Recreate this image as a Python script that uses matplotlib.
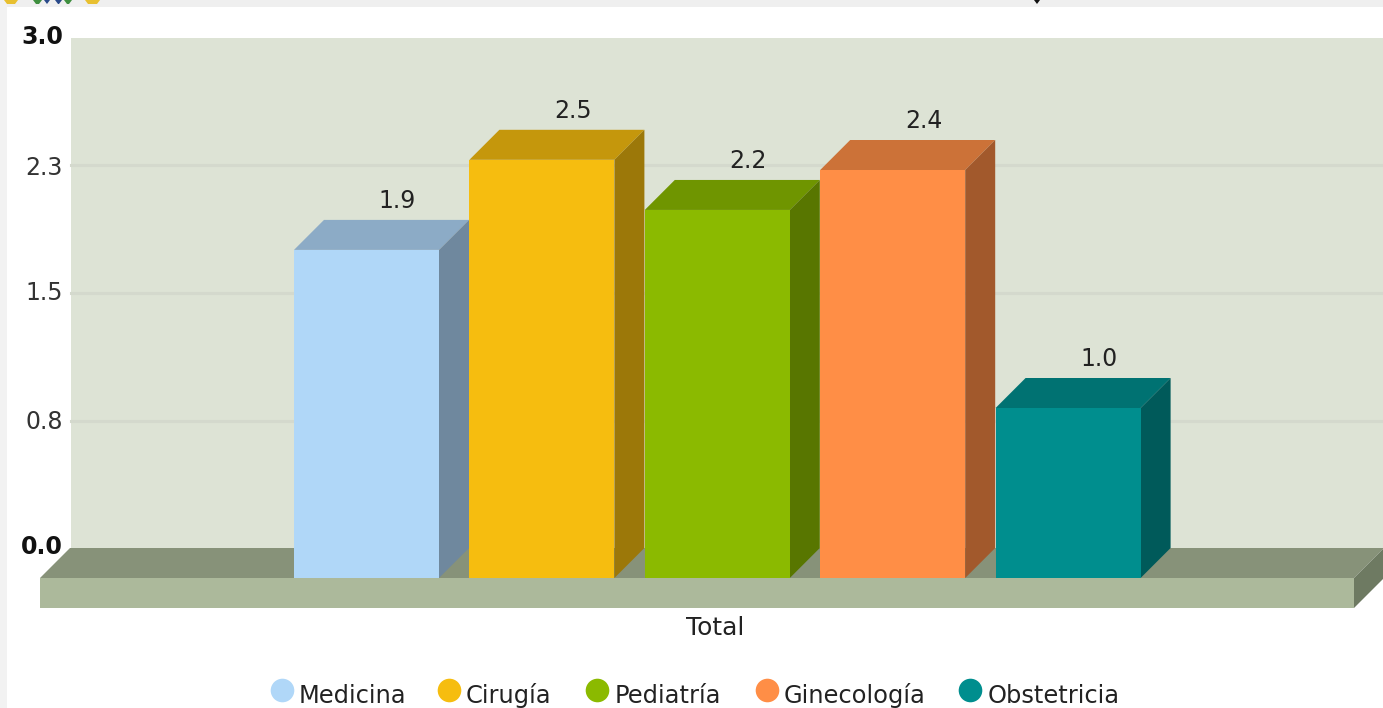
import matplotlib
matplotlib.use("Agg")
import matplotlib.pyplot as plt
from matplotlib.patches import Polygon, Rectangle

W, H = 1383, 708

series = ['Medicina', 'Cirugía', 'Pediatría', 'Ginecología', 'Obstetricia']
values = [1.93, 2.46, 2.165, 2.40, 1.0]
value_labels = ['1.9', '2.5', '2.2', '2.4', '1.0']
front_colors = ['#b0d7f8', '#f6bd0f', '#8bba00', '#ff8e46', '#008e8e']
top_colors = ['#8cabc6', '#c5970c', '#6f9500', '#cc7238', '#007272']
side_colors = ['#6f889e', '#9c7809', '#587600', '#a2592c', '#005a5a']
y_ticks = [0.0, 0.75, 1.5, 2.25, 3.0]
y_tick_labels = ['0.0', '0.8', '1.5', '2.3', '3.0']
y_label_px = [547, 422, 293, 168, 37]
category = 'Total'

# cut off bits of the page header along the top edge: x0, x1, colour
header_bits = [(4, 18, '#e8c030'), (33, 42, '#3f8f3f'), (44, 50, '#2a4a8a'), (55, 62, '#2a4a8a'),
               (64, 72, '#3f8f3f'), (85, 100, '#e8c030'), (1034, 1040, '#111111')]

# pixels of the front plane
px_per_value = 170.0
px_per_bar = 175.4
x0_px = 366.5
y0_px = 578.0
depth_px = 30.0
bar_w = 145.0 / px_per_bar
dx = depth_px / px_per_bar
dy = depth_px / px_per_value


def xv(px):
    return (px - x0_px) / px_per_bar


def yv(py):
    return (y0_px - py) / px_per_value


plt.rcParams['font.family'] = ['DejaVu Sans']
fig = plt.figure(figsize=(W / 100, H / 100), dpi=100, facecolor='white')
ax = fig.add_axes([0, 0, 1, 1])
ax.set_xlim(xv(0), xv(W))
ax.set_ylim(yv(H), yv(0))
ax.axis('off')

# page behind the chart
ax.add_patch(Rectangle((xv(0), yv(7)), xv(W) - xv(0), yv(0) - yv(7), fc='#efefef', ec='none'))
ax.add_patch(Rectangle((xv(0), yv(H)), xv(7) - xv(0), yv(0) - yv(H), fc='#f2f2f2', ec='none'))
for a, b, c in header_bits:
    ax.add_patch(Polygon([(xv(a), yv(0)), (xv(b), yv(0)), (xv(b - 3), yv(4)), (xv(a + 3), yv(4))], fc=c, ec='none'))

# back wall, gridlines
wall_l, wall_r = xv(71), xv(W)
ax.add_patch(Rectangle((wall_l, dy), wall_r - wall_l, y_ticks[-1], fc='#dde3d5', ec='none', zorder=1))
for t in y_ticks[1:-1]:
    ax.plot([wall_l, wall_r], [t + dy, t + dy], color='#d4d9cd', lw=2.2, zorder=1.5)

# floor
fl, fr = xv(40), xv(1354)
floor_h = 30.0 / px_per_value
ax.add_patch(Polygon([(fl, 0), (fl + dx, dy), (fr + dx, dy), (fr, 0)], fc='#879279', ec='none', zorder=2))
ax.add_patch(Polygon([(fr, 0), (fr + dx, dy), (fr + dx, dy - floor_h), (fr, -floor_h)], fc='#6e7a62', ec='none', zorder=2))
ax.add_patch(Rectangle((fl, -floor_h), fr - fl, floor_h, fc='#acb99b', ec='none', zorder=2))

# bars
xs = list(range(len(values)))
ax.bar(xs, values, width=bar_w, color=front_colors, zorder=3, linewidth=0)
for x, v, lab, tc, sc in zip(xs, values, value_labels, top_colors, side_colors):
    l, r = x - bar_w / 2, x + bar_w / 2
    ax.add_patch(Polygon([(l, v), (l + dx, v + dy), (r + dx, v + dy), (r, v)], fc=tc, ec='none', zorder=2.5))
    ax.add_patch(Polygon([(r, 0), (r + dx, dy), (r + dx, v + dy), (r, v)], fc=sc, ec='none', zorder=2.5))
    ax.text(x + dx / 2 + 16 / px_per_bar, v + dy + 7 / px_per_value, lab, ha='center', va='bottom', fontsize=17,
            color='#222222', zorder=5)

# y axis labels
for t, lab, py in zip(y_ticks, y_tick_labels, y_label_px):
    bold = t in (y_ticks[0], y_ticks[-1])
    ax.text(xv(63), yv(py), lab, ha='right', va='center', fontsize=17, color='#111111' if bold else '#333333',
            fontweight='bold' if bold else 'normal', zorder=5)

ax.text(xv(715), yv(628), category, ha='center', va='center', fontsize=18, color='#222222', zorder=5)

# legend
legend_dot_px = [282, 449, 597, 767, 970]
legend_text_px = [299, 466, 615, 784, 988]
for name, c, dp, tp in zip(series, front_colors, legend_dot_px, legend_text_px):
    ax.plot([xv(dp)], [yv(690)], 'o', ms=17, color=c, mec='none', zorder=5)
    ax.text(xv(tp), yv(696), name, ha='left', va='center', fontsize=17.4, color='#222222', zorder=5)

fig.savefig('out.png', dpi=100)
